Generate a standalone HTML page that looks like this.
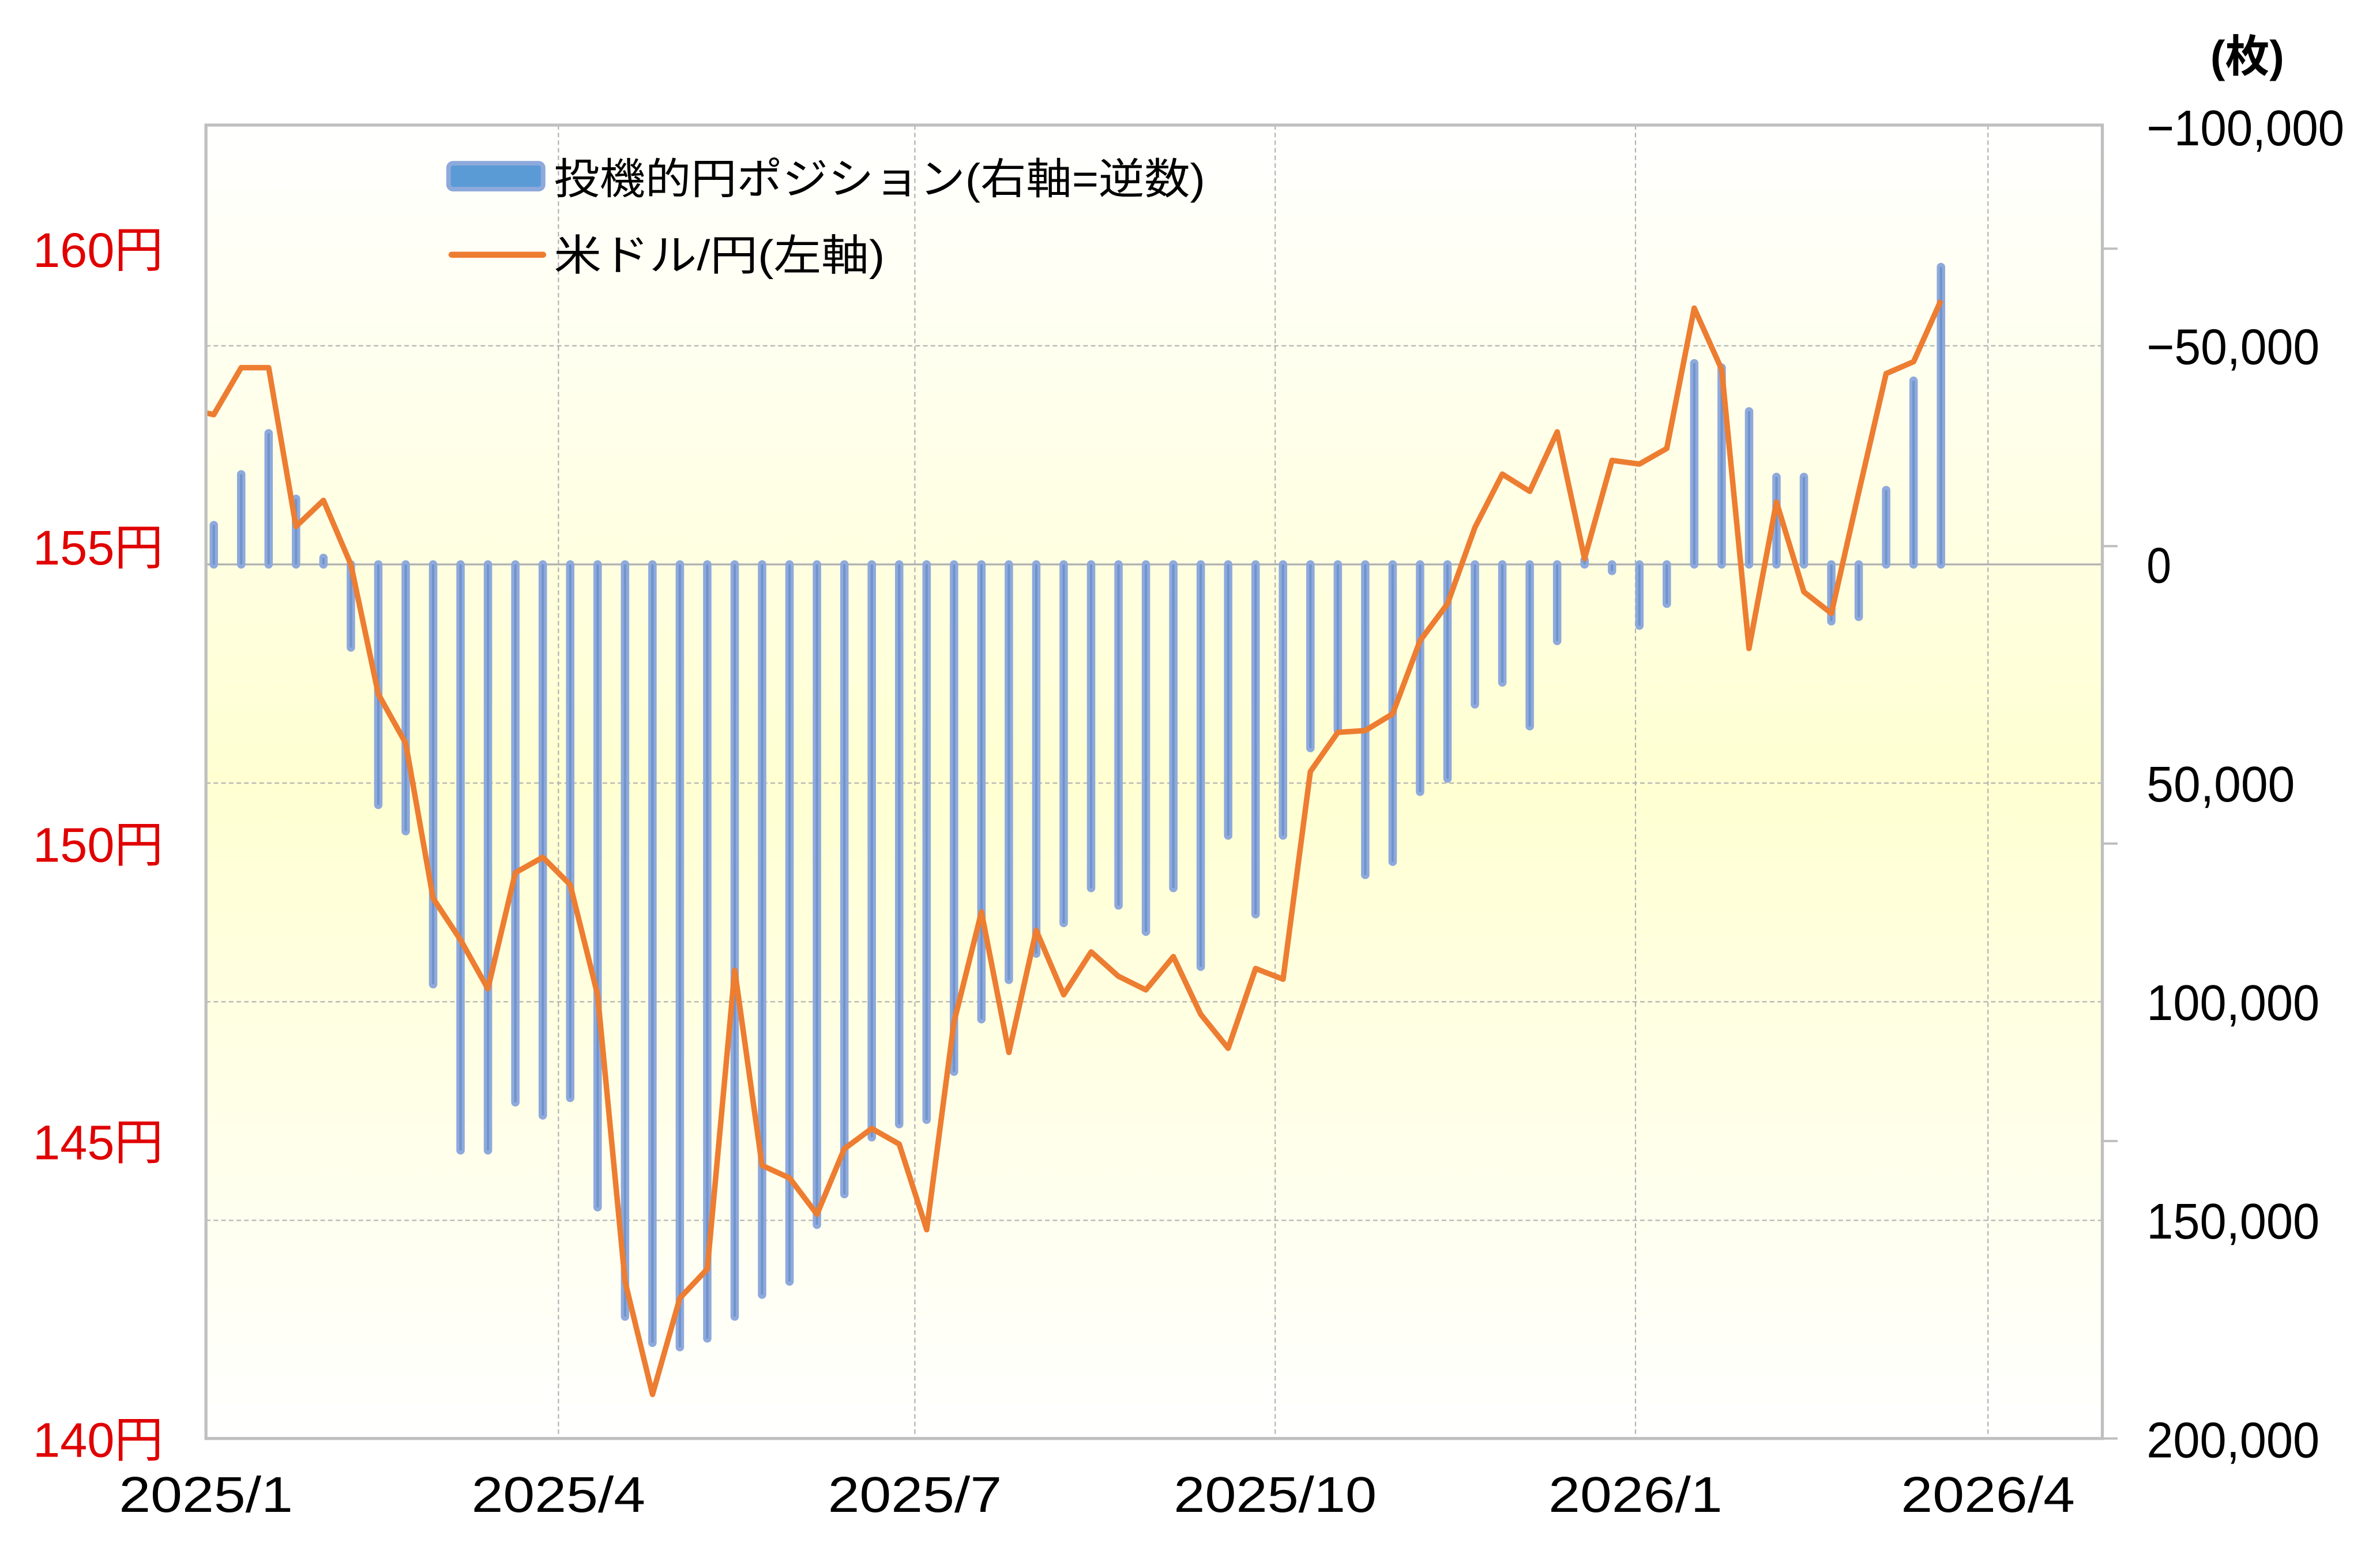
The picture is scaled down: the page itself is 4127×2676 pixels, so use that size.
<!DOCTYPE html>
<html><head><meta charset="utf-8"><style>
html,body{margin:0;padding:0;background:#fff;}
svg{display:block;}
text{font-family:"Liberation Sans Narrow","Liberation Sans","Noto Sans CJK JP",sans-serif;}
</style></head><body>
<svg id="chart" width="4127" height="2676" viewBox="0 0 1560 1011.5" preserveAspectRatio="none" xmlns="http://www.w3.org/2000/svg">
<defs>
<linearGradient id="bg" x1="0" y1="0" x2="0" y2="1">
<stop offset="0" stop-color="#ffffff"/>
<stop offset="0.5" stop-color="#ffffd2"/>
<stop offset="1" stop-color="#ffffff"/>
</linearGradient>
<clipPath id="clip"><rect x="135" y="82" width="1243" height="861"/></clipPath>
</defs>
<rect x="135" y="82" width="1243" height="861" fill="url(#bg)"/>
<g id="grid"></g>
<g id="bars" clip-path="url(#clip)"></g>
<g id="line" clip-path="url(#clip)"></g>
<rect x="135" y="82" width="1243" height="861" fill="none" stroke="#bfbfbf" stroke-width="2"/>
<g id="axes"></g>
<g>
<rect x="294" y="107" width="62" height="17" rx="3" fill="#5b9bd5" stroke="#8ea9db" stroke-width="3"/>
<text x="363" y="127" font-size="28" fill="#000" textLength="427" lengthAdjust="spacingAndGlyphs">投機的円ポジション(右軸=逆数)</text>
<line x1="296" y1="167" x2="356" y2="167" stroke="#ed7d31" stroke-width="4" stroke-linecap="round"/>
<text x="363" y="177" font-size="28" fill="#000" textLength="217" lengthAdjust="spacingAndGlyphs">米ドル/円(左軸)</text>
</g>
<text x="1473" y="47" font-size="29" font-weight="bold" text-anchor="middle">(枚)</text>
</svg>
<script>
const NS='http://www.w3.org/2000/svg';
const startDate='2025-01-03';
const usdJpy=[157.21,158.0,158.0,155.33,155.77,154.69,152.51,151.69,149.08,148.38,147.56,149.51,149.77,149.31,147.46,142.64,140.74,142.36,142.85,147.87,144.59,144.38,143.77,144.87,145.21,144.95,143.51,147.0,148.85,146.49,148.54,147.46,148.18,147.77,147.54,148.10,147.13,146.56,147.90,147.72,151.21,151.87,151.90,152.18,153.41,154.03,155.31,156.21,155.92,156.92,154.79,156.44,156.38,156.64,159.0,157.97,153.28,155.74,154.23,153.87,155.90,157.90,158.10,159.13];
const prevUsdJpy=157.31;
const positions=[-9,-20.6,-30,-15,-1.5,19,55,61,96,134,134,123,126,122,147,172,178,179,177,172,167,164,151,144,131,128,127,116,104,95,89,82,74,78,84,74,92,62,80,62,42,38,71,68,52,49,32,27,37,17.5,-1,1.5,14,9,-46,-45,-35,-20,-20,13,12,-17,-42,-68];
const leftTicks=[140,145,150,155,160];
const rightTicks=[-100000,-50000,0,50000,100000,150000,200000];
const xTickLabels=['2025/1','2025/4','2025/7','2025/10','2026/1','2026/4'];
const xTickDates=['2025-01-01','2025-04-01','2025-07-01','2025-10-01','2026-01-01','2026-04-01'];

const day0=Date.UTC(2025,0,1);
function dayOf(s){const p=s.split('-');return (Date.UTC(+p[0],+p[1]-1,+p[2])-day0)/86400000;}
function xScale(d){return 135+d*937/365;}
function yLeft(v){return 943-(v-140)*39;}
function yRight(v){return 370+v*860/300000;}
function mk(tag,attrs,parent){const e=document.createElementNS(NS,tag);for(const k in attrs)e.setAttribute(k,attrs[k]);parent.appendChild(e);return e;}

const grid=document.getElementById('grid');
const axes=document.getElementById('axes');
rightTicks.forEach(function(v){
  const y=yRight(v);
  if(v!==-100000&&v!==200000){
    const g=mk('line',{x1:135,x2:1378,y1:y,y2:y,stroke:'#b0b0b0','stroke-width':v===0?1.2:0.8,'stroke-dasharray':v===0?'':'3,2'},grid);
    
    
  }
  const label=(v<0?'\u2212':'')+Math.abs(v).toLocaleString('en-US');
  const t=mk('text',{x:1407,y:y+12,'font-size':33,textLength:16.2*label.length,lengthAdjust:'spacingAndGlyphs'},axes);
  t.textContent=label;
  
  
});
leftTicks.forEach(function(v){
  const y=yLeft(v);
  const t=mk('text',{x:107,y:y+12,'font-size':32,fill:'#e00000','text-anchor':'end'},axes);
  t.textContent=v+'円';
  
  
  const tk=mk('line',{x1:1378,x2:1388,y1:y,y2:y,stroke:'#bfbfbf','stroke-width':1.5},axes);
  
  
});
xTickDates.forEach(function(d,i){
  const x=xScale(dayOf(d));
  if(i>0){
    const g=mk('line',{x1:x,x2:x,y1:82,y2:943,stroke:'#b0b0b0','stroke-width':0.8,'stroke-dasharray':'3,2'},grid);
    
    
  }
  const t=mk('text',{x:x,y:991,'font-size':33,'text-anchor':'middle',textLength:19*xTickLabels[i].length,lengthAdjust:'spacingAndGlyphs'},axes);
  t.textContent=xTickLabels[i];
  
  
});

const s0=dayOf(startDate);
const bars=document.getElementById('bars');
positions.forEach(function(v,i){
  const x=xScale(s0+7*i);
  const y0=yRight(0), y1=yRight(v*1000);
  const b=mk('line',{x1:x,x2:x,y1:y0,y2:y1,stroke:'#8ea9db','stroke-width':5.5,'stroke-linecap':'round'},bars);
  
  
  const c=mk('line',{x1:x,x2:x,y1:y0,y2:y1,stroke:'#6f93cc','stroke-width':1.5},bars);
  
  
});
const pts=[[xScale(s0-7),yLeft(prevUsdJpy)]].concat(usdJpy.map(function(v,i){return [xScale(s0+7*i),yLeft(v)];}));
const pl=mk('polyline',{points:pts.map(function(p){return p[0].toFixed(1)+','+p[1].toFixed(1);}).join(' '),fill:'none',stroke:'#ed7d31','stroke-width':3.6,'stroke-linejoin':'round'},document.getElementById('line'));


</script>
</body></html>
